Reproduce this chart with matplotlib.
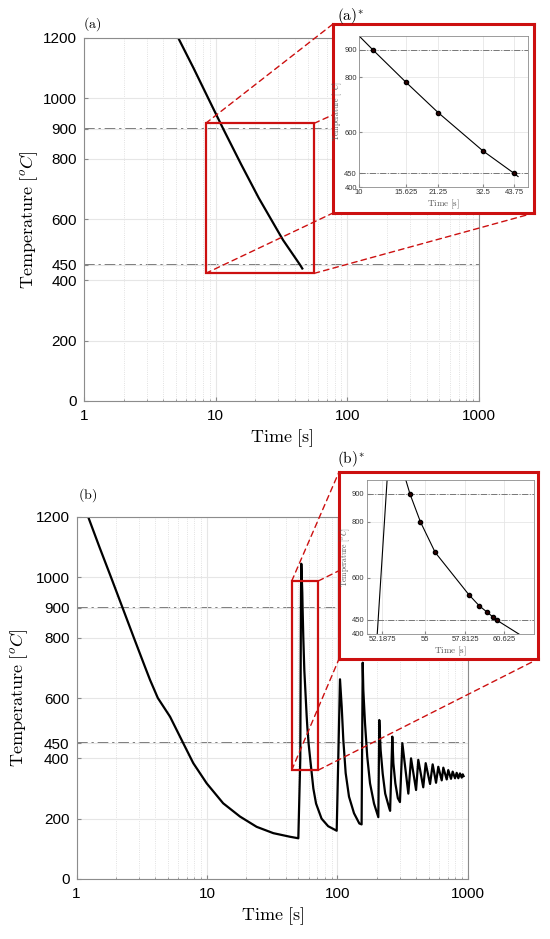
import matplotlib
matplotlib.use('Agg')
import matplotlib.pyplot as plt
from matplotlib.patches import Rectangle, ConnectionPatch
from matplotlib.ticker import NullFormatter, NullLocator, LogLocator

plt.rcParams['font.family'] = ['Liberation Sans', 'DejaVu Sans']
plt.rcParams['mathtext.fontset'] = 'cm'

# (a) single cooling curve
t_a = [5.2, 6.8, 8.8, 11.4, 15.625, 21.25, 32.5, 43.75, 45.5]
T_a = [1200, 1100, 1000, 900, 782, 671, 532, 450, 438]
t_a_pts = [11.4, 15.625, 21.25, 32.5, 43.75]
T_a_pts = [900, 782, 671, 532, 450]

# (b) cooling then repeated reheating pulses
t_b_cool = [1.23, 1.50, 1.84, 2.25, 2.75, 3.37, 3.66, 4.2, 5.21, 6.58, 7.85,
            9.95, 13.3, 17.9, 24.0, 32.2, 43.3, 50.1]
T_b_cool = [1200, 1100, 1000, 900, 800, 700, 660, 600, 538, 450, 384,
            317, 251, 207, 173, 152, 140, 135]
t_b_pulse = [51.87, 52.5, 52.8, 53.73, 54.0, 54.7, 55.7, 58.05, 58.8, 59.4, 59.8, 60.1,
             61.7, 65.3, 68.5, 75.5, 84.8, 98.6,
             104.5, 107.7, 110.8, 115.5, 122.5, 133.8, 147, 153,
             156, 157.7, 162.5, 169, 177.5, 190.5, 205.5,
             209, 214, 222, 232, 249.5, 253,
             263, 268, 277.5, 290, 301,
             314, 349, 366, 400, 416, 454, 474, 512, 536, 569, 592, 629,
             647, 687, 706, 741, 763, 795, 819, 843, 868, 895, 911, 925]
T_b_pulse = [400, 949, 1045, 949, 900, 800, 691, 540, 500, 476, 460, 448,
             400, 300, 250, 200, 175, 160,
             662, 571, 461, 351, 273, 218, 184, 181,
             717, 627, 516, 406, 317, 250, 205,
             527, 428, 349, 283, 234, 226,
             472, 384, 317, 268, 255,
             450, 283, 400, 295, 395, 304, 384, 315, 380, 319, 372, 327,
             369, 330, 361, 332, 356, 334, 352, 334, 350, 336, 347, 341]
t_b_pts = [54.0, 54.7, 55.7, 58.05, 58.8, 59.4, 59.8, 60.1]
T_b_pts = [900, 800, 691, 540, 500, 476, 460, 448]

t_b = t_b_cool + t_b_pulse
T_b = T_b_cool + T_b_pulse

yticks_main = [0, 200, 400, 450, 600, 800, 900, 1000, 1200]
xticks_main = [1, 10, 100, 1000]
red = '#cc1010'
W, H = 550, 939


def fr(x0, y0, x1, y1):
    # pixel box -> figure fraction [l, b, w, h]
    return [x0 / W, 1 - y1 / H, (x1 - x0) / W, (y1 - y0) / H]


def style_main(ax, ylpad):
    ax.set_xscale('log')
    ax.set_xlim(1, 1000)
    ax.set_ylim(0, 1200)
    ax.set_xticks(xticks_main, [str(v) for v in xticks_main])
    ax.xaxis.set_minor_locator(LogLocator(base=10, subs=range(2, 10)))
    ax.xaxis.set_minor_formatter(NullFormatter())
    ax.set_yticks(yticks_main, [str(v) for v in yticks_main])
    ax.grid(True, which='major', color='#e6e6e6', lw=0.8)
    ax.grid(True, which='minor', axis='x', color='#d8d8d8', lw=0.6, ls=':')
    ax.tick_params(which='both', direction='in', color='#888888', labelsize=11)
    ax.tick_params(which='major', length=3)
    ax.tick_params(which='minor', length=1.5)
    ax.tick_params(axis='x', pad=6)
    ax.tick_params(axis='y', pad=5)
    for s in ax.spines.values():
        s.set_color('#8c8c8c')
        s.set_linewidth(0.8)
    for v in (900, 450):
        ax.axhline(v, color='#555555', lw=1.1, ls=(0, (7, 2.5, 1.5, 2.5)), zorder=1.5)
    ax.set_xlabel(r'$\mathrm{Time}\ [\mathrm{s}]$', fontsize=13, labelpad=3)
    ax.set_ylabel(r'$\mathrm{Temperature}\ [^oC]$', fontsize=13, labelpad=ylpad)


def style_inset(ax, xlim, xticks, xlabels):
    ax.set_xscale('log')
    ax.set_xlim(*xlim)
    ax.set_ylim(400, 950)
    ax.set_xticks(xticks, xlabels)
    ax.xaxis.set_minor_locator(NullLocator())
    ax.xaxis.set_minor_formatter(NullFormatter())
    ax.set_yticks([400, 450, 600, 800, 900])
    ax.grid(True, which='major', color='#e6e6e6', lw=0.6)
    ax.tick_params(direction='in', length=2, color='#888888', labelsize=5.5,
                   labelcolor='#333333', pad=1.5)
    for s in ax.spines.values():
        s.set_color('#8c8c8c')
        s.set_linewidth(0.6)
    for v in (900, 450):
        ax.axhline(v, color='#777777', lw=0.7, ls='-.')
    ax.set_xlabel(r'$\mathrm{Time}\ [\mathrm{s}]$', fontsize=6.5, labelpad=1, color='#555555')
    ax.set_ylabel(r'$\mathrm{Temperature}\ [^oC]$', fontsize=5.5, labelpad=0, color='#555555')


def frame_ax(box):
    f = fig.add_axes(fr(*box), zorder=3)
    f.set_xticks([])
    f.set_yticks([])
    for s in f.spines.values():
        s.set_color(red)
        s.set_linewidth(2.2)
    return f


def zoom_lines(ax, f, x0, x1, y0, y1):
    corners = [((x0, y1), (0, 1)), ((x1, y1), (1, 1)),
               ((x0, y0), (0, 0)), ((x1, y0), (1, 0))]
    for a, b in corners:
        con = ConnectionPatch(xyA=a, coordsA=ax.transData, xyB=b, coordsB=f.transAxes,
                              color=red, lw=1.0, ls=(0, (4, 3)), zorder=2)
        fig.add_artist(con)


fig = plt.figure(figsize=(5.5, 9.39), dpi=100)

# ---- (a) ----
ax1 = fig.add_axes(fr(84, 38, 479, 401), zorder=1)
style_main(ax1, 2)
ax1.plot(t_a, T_a, color='black', lw=1.6)
ax1.add_patch(Rectangle((8.4, 422), 56 - 8.4, 918 - 422, fill=False, ec=red, lw=1.6, zorder=3))

fa = frame_ax((333, 24, 534, 213))
zoom_lines(ax1, fa, 8.4, 56, 422, 918)
ia = fig.add_axes(fr(359, 36, 528, 187), zorder=4)
style_inset(ia, (10, 50), [10, 15.625, 21.25, 32.5, 43.75],
            ['10', '15.625', '21.25', '32.5', '43.75'])
ia.plot(t_a, T_a, color='black', lw=0.8)
ia.plot(t_a_pts, T_a_pts, 'o', color='black', mfc='#300000', ms=3)

# ---- (b) ----
ax2 = fig.add_axes(fr(76.5, 517, 468, 879), zorder=1)
style_main(ax2, 4)
ax2.plot(t_b, T_b, color='black', lw=1.6)
ax2.add_patch(Rectangle((44.6, 361), 71.3 - 44.6, 988 - 361, fill=False, ec=red, lw=1.6, zorder=3))

fb = frame_ax((339, 472, 538, 659))
zoom_lines(ax2, fb, 44.6, 71.3, 361, 988)
ib = fig.add_axes(fr(366.7, 480, 534, 633.7), zorder=4)
style_inset(ib, (51.2, 62.9), [52.1875, 55, 57.8125, 60.625],
            ['52.1875', '55', '57.8125', '60.625'])
ib.plot(t_b, T_b, color='black', lw=0.8)
ib.plot(t_b_pts, T_b_pts, 'o', color='black', mfc='#300000', ms=3)

# panel labels
fig.text(83 / W, 1 - 24 / H, r'$\mathrm{(a)}$', fontsize=10, va='center', ha='left')
fig.text(337 / W, 1 - 16 / H, r'$\mathrm{(a)}^{*}$', fontsize=11, va='center', ha='left')
fig.text(78 / W, 1 - 495 / H, r'$\mathrm{(b)}$', fontsize=10, va='center', ha='left')
fig.text(337 / W, 1 - 459 / H, r'$\mathrm{(b)}^{*}$', fontsize=11, va='center', ha='left')

fig.savefig('out.png', dpi=100, facecolor='white')
